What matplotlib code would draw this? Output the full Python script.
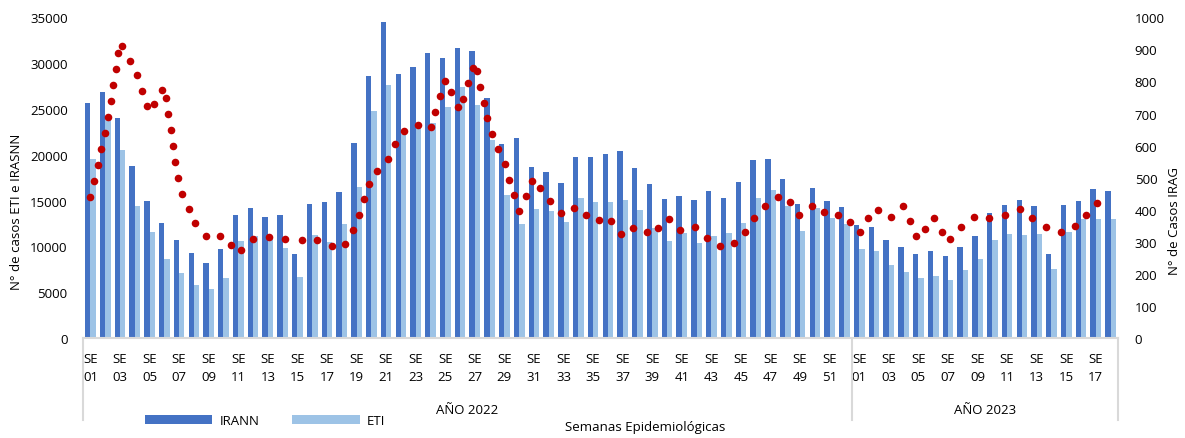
import matplotlib
matplotlib.use("Agg")
import matplotlib.pyplot as plt
import matplotlib.transforms as mtransforms
import numpy as np

plt.rcParams['font.family'] = ['Open Sans', 'DejaVu Sans']

# semanas epidemiologicas: 52 de 2022 + 18 de 2023
weeks_2022 = list(range(1, 53))
weeks_2023 = list(range(1, 19))
years = ["AÑO 2022", "AÑO 2023"]

irann = [25700, 26800, 24000, 18800, 14900, 12500, 10660, 9270, 8180, 9710,
         13420, 14220, 13200, 13420, 9160, 14580, 14800, 15930, 21310, 28550,
         34510, 28770, 29570, 31090, 30550, 31670, 31280, 26150, 21130, 21820,
         18690, 18080, 16940, 19710, 19750, 20070, 20400, 18550, 16770, 15200,
         15460, 15020, 16000, 15270, 17020, 19420, 19560, 17350, 14660, 16330,
         14910, 14260,
         12330, 12110, 10690, 9890, 9130, 9460, 8980, 9890, 11090, 13600,
         14480, 15020, 14400, 9200, 14510, 14910, 16260, 16000]

eti = [19530, 24000, 20510, 14400, 11530, 8620, 7090, 5780, 5310, 6550,
       10580, 11160, 11020, 9850, 6650, 11240, 10510, 12400, 16440, 24770,
       27570, 22300, 23000, 23500, 25200, 27350, 25420, 21640, 15600, 12440,
       14110, 13890, 12690, 15240, 14840, 14840, 15090, 13960, 11970, 10620,
       11460, 10330, 11090, 11460, 12550, 15240, 16110, 14440, 11670, 14150,
       13060, 12440,
       9740, 9490, 8000, 7170, 6510, 6760, 6290, 7420, 8590, 10660,
       11310, 11270, 11350, 7490, 11530, 12980, 12950, 12950]

# IRAG (eje secundario); posicion en unidades de semana (serie XY)
irag_pos = [-0.01, 0.24, 0.51, 0.75, 1.00, 1.18, 1.36, 1.52, 1.70, 1.88, 2.15, 2.69,
            3.14, 3.50, 3.84, 4.31, 4.85, 5.12, 5.27, 5.44, 5.59, 5.75, 5.91, 6.20,
            6.65, 7.10, 7.80, 8.74, 9.51, 10.20, 10.99,
            12.09, 13.17, 14.28, 15.31, 16.31, 17.20, 17.77, 18.20, 18.49, 18.83,
            19.37, 20.11, 20.63, 21.21, 22.13, 23.01,
            23.33, 23.67, 23.96, 24.41, 24.88, 25.22, 25.56, 25.85, 26.14, 26.37,
            26.59, 26.84, 27.18, 27.60, 28.01, 28.33, 28.66, 28.97, 29.43, 29.88,
            30.44, 31.07, 31.84, 32.73, 33.52, 34.38,
            35.21, 35.89, 36.72, 37.62, 38.39, 39.10, 39.89, 40.91, 41.67, 42.57,
            43.54, 44.30, 44.89, 45.61, 46.49,
            47.32, 47.95, 48.79, 49.62, 50.56, 51.39, 52.05, 52.59, 53.24, 54.12,
            54.97, 55.42, 55.87, 56.43, 57.04, 57.58, 58.17,
            58.89, 59.79, 60.80, 61.86, 62.90, 63.68, 64.61, 65.64, 66.61, 67.35, 68.05]
irag = [441, 490, 539, 588, 638, 688, 738, 788, 838, 888, 910, 865, 819, 771, 723,
        730, 774, 748, 698, 649, 599, 548, 498, 449, 402, 358, 317, 317, 291, 274, 310,
        316, 309, 307, 307, 286, 293, 338, 384, 433, 480, 522, 558, 604, 645, 665, 657,
        706, 754, 802, 766, 719, 745, 794, 842, 833, 784, 734, 685, 636, 589, 543, 494,
        446, 397, 442, 489, 468, 426, 391, 404, 384, 369,
        365, 324, 342, 331, 343, 371, 336, 346, 313, 286, 295, 330, 373, 412, 439,
        425, 384, 413, 394, 384, 363, 331, 375, 398, 378, 411, 366, 319, 341, 374, 331, 309,
        345, 376, 375, 385, 402, 373, 345, 331, 348, 384, 422]

DARK = '#4472C4'
LIGHT = '#9DC3E6'
RED = '#C00000'
GRID = '#D9D9D9'
TXT = '#000000'
FS = 9.5

n = len(irann)
x = np.arange(n)
w = 0.36

fig = plt.figure(figsize=(11.85, 4.39), dpi=100)
ax = fig.add_axes([83/1185, 1-339/439, (1118-83)/1185, (339-18.3)/439])

b1 = ax.bar(x - w/2, irann, width=w, color=DARK, label='IRANN', zorder=2)
b2 = ax.bar(x + w/2, eti, width=w, color=LIGHT, label='ETI', zorder=2)

ax.set_xlim(-0.5, n - 0.5)
ax.set_ylim(0, 35000)
ax.set_yticks(range(0, 35001, 5000))
ax.tick_params(axis='y', length=0, pad=11, labelsize=FS)

labels = ["SE\n%02d" % wk for wk in weeks_2022] + ["SE\n%02d" % wk for wk in weeks_2023]
ax.set_xticks(x[::2])
ax.set_xticklabels(labels[::2], fontsize=FS, linespacing=1.5)
ax.tick_params(axis='x', length=0, pad=10)

for s in ['top', 'left', 'right']:
    ax.spines[s].set_visible(False)
ax.spines['bottom'].set_color(GRID)
ax.spines['bottom'].set_linewidth(1.5)

# separadores de año
trans = mtransforms.blended_transform_factory(ax.transData, ax.transAxes)
split = len(weeks_2022) - 0.5
for xs in [-0.5, split, n - 0.5]:
    ax.plot([xs, xs], [0, -0.256], transform=trans, color=GRID, lw=1.5, clip_on=False)
ax.text((-0.5 + split) / 2, -0.224, years[0], transform=trans, ha='center', va='center', fontsize=FS)
ax.text((split + n - 0.5) / 2, -0.224, years[1], transform=trans, ha='center', va='center', fontsize=FS)

ax2 = ax.twinx()
ax2.set_ylim(0, 1000)
ax2.set_yticks(range(0, 1001, 100))
ax2.tick_params(axis='y', length=0, pad=12, labelsize=FS)
for s in ['top', 'left', 'right', 'bottom']:
    ax2.spines[s].set_visible(False)
ax2.scatter(irag_pos, irag, s=30, color=RED, zorder=3, linewidths=0)

fig.text(16.7/1185, 1-212/439, 'N° de casos ETI e IRASNN', rotation=90, ha='center', va='center', fontsize=FS)
fig.text(1175/1185, 1-221/439, 'N° de Casos IRAG', rotation=90, ha='center', va='center', fontsize=FS)
fig.text(645/1185, 1-428/439, 'Semanas Epidemiológicas', ha='center', va='center', fontsize=FS)

fig.legend(handles=[b1, b2], labels=['IRANN', 'ETI'], loc='center left',
           bbox_to_anchor=(145/1185, 1-422/439), ncol=2, frameon=False,
           fontsize=FS, handlelength=5.1, handleheight=0.65, handletextpad=0.55,
           columnspacing=2.5, borderpad=0, borderaxespad=0)

fig.savefig('out.png', dpi=100)
